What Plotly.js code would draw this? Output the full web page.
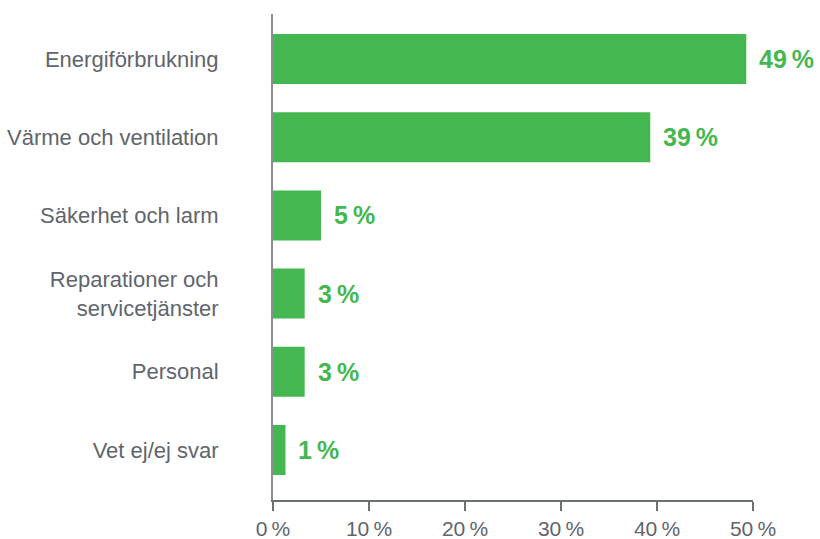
<!DOCTYPE html>
<html>
<head>
<meta charset="utf-8">
<script src="https://cdn.plot.ly/plotly-3.0.1.min.js"></script>
<style>html,body{margin:0;padding:0;background:#fff;}#chart{width:820px;height:539px;}</style>
</head>
<body>
<div id="chart"></div>
<script>
const categories = ["Energiförbrukning", "Värme och ventilation", "Säkerhet och larm", "Reparationer och<br>servicetjänster", "Personal", "Vet ej/ej svar"];
const values = [49.3, 39.3, 5.0, 3.3, 3.3, 1.3];
const valueLabels = ["49\u2009%", "39\u2009%", "5\u2009%", "3\u2009%", "3\u2009%", "1\u2009%"];
const tickVals = [0, 10, 20, 30, 40, 50];
const tickText = ["0\u2009%", "10\u2009%", "20\u2009%", "30\u2009%", "40\u2009%", "50\u2009%"];

const green = "#45b751";
const grey = "#5f656d";

const trace = {
  type: "bar",
  orientation: "h",
  x: values,
  y: categories,
  marker: {color: green},
  hoverinfo: "none"
};

const annotations = values.map((v, i) => ({
  x: v, y: categories[i], xref: "x", yref: "y",
  text: valueLabels[i], showarrow: false, xanchor: "left", xshift: 11,
  font: {family: "Liberation Sans, Arial, sans-serif", size: 25, color: green, weight: "bold"}
}));

const layout = {
  width: 820, height: 539,
  margin: {l: 273, r: 67, t: 14, b: 39},
  paper_bgcolor: "#fff", plot_bgcolor: "#fff",
  showlegend: false,
  bargap: 0.36,
  xaxis: {
    range: [0, 50], tickvals: tickVals, ticktext: tickText,
    showgrid: false, zeroline: false, showline: true, linecolor: "#6b7077", linewidth: 1.5,
    ticks: "outside", ticklen: 9, tickcolor: "#6b7077", tickwidth: 1.5,
    tickfont: {family: "Liberation Sans, Arial, sans-serif", size: 21, color: grey}
  },
  yaxis: {
    categoryorder: "array", categoryarray: categories,
    range: [5.64, -0.576],
    showgrid: false, zeroline: false, showline: true, linecolor: "#8a8d91", linewidth: 2,
    ticks: "", ticklabelstandoff: 48,
    tickfont: {family: "Liberation Sans, Arial, sans-serif", size: 22, color: grey}
  },
  annotations: annotations
};

Plotly.newPlot("chart", [trace], layout, {staticPlot: true, displayModeBar: false});
</script>
</body>
</html>
